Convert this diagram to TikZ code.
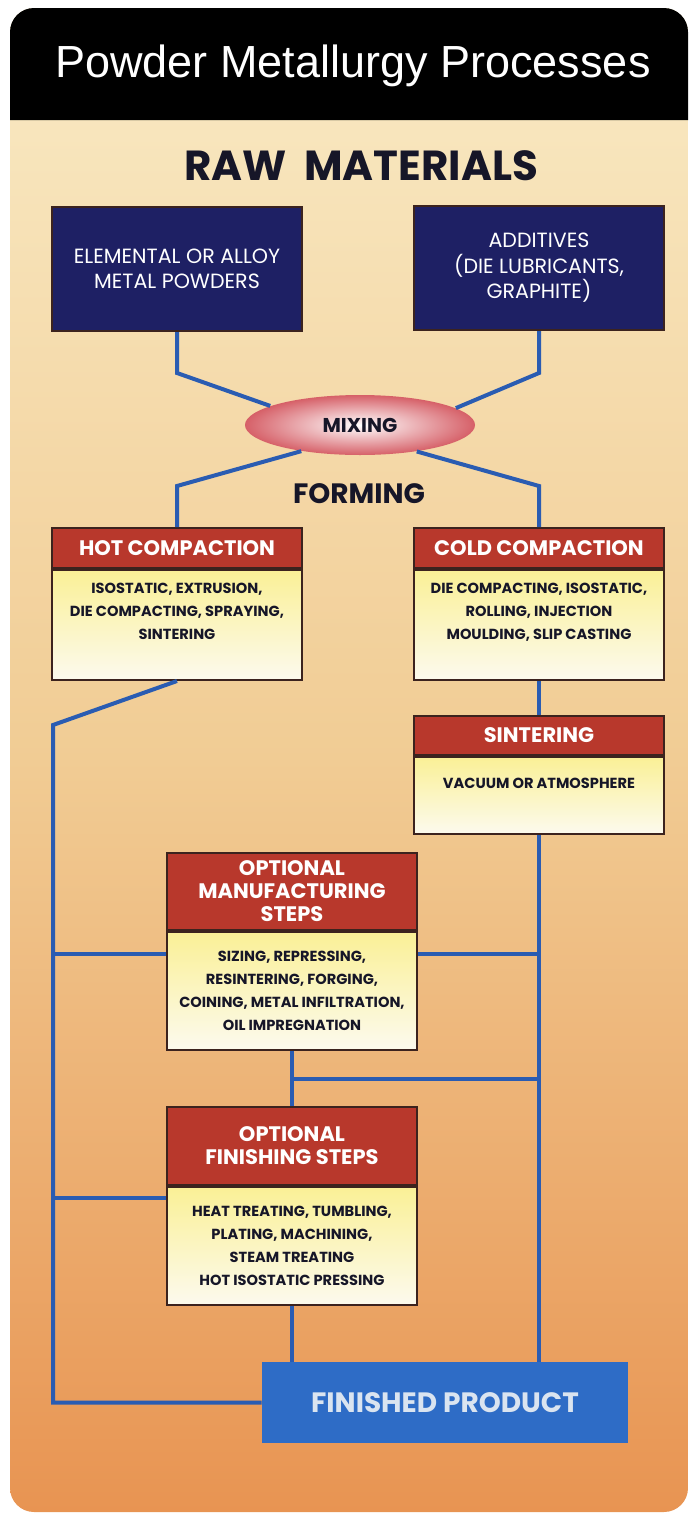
\documentclass[tikz,border=0pt]{standalone}
\usepackage{fontspec}
\setmainfont{Poppins}
\newfontfamily\titlefont{Liberation Sans}
\usepackage{tikz}
\usetikzlibrary{
	shapes.geometric,
	positioning,
	calc
}

\definecolor{navybox}{RGB}{30,32,100}
\definecolor{headred}{RGB}{184,56,44}
\definecolor{bodyyellow}{RGB}{250,240,150}
\definecolor{bodywhite}{RGB}{252,250,238}
\definecolor{linkblue}{RGB}{42,92,178}
\definecolor{prodblue}{RGB}{46,108,198}
\definecolor{panelTop}{RGB}{249,234,196}
\definecolor{panelMid}{RGB}{241,204,148}
\definecolor{panelBot}{RGB}{232,148,82}
\definecolor{boxedge}{RGB}{60,35,30}
\definecolor{inkdark}{RGB}{22,22,40}
\definecolor{mixred}{RGB}{214,96,104}
\definecolor{prodtext}{RGB}{218,228,240}

\begin{document}
\begin{tikzpicture}[
				x=0.5pt, y=-0.5pt,
				rawbox/.style={
					rectangle, draw=boxedge, line width=1pt, fill=navybox,
					minimum width=125pt, minimum height=62pt, inner sep=0pt,
					align=center, text=white, font=\fontsize{10.3}{12.7}\selectfont
				},
				headbox/.style={
					rectangle, draw=boxedge, line width=1pt, fill=headred,
					minimum width=125pt, inner sep=0pt,
					align=center, text=white, font=\bfseries\fontsize{10.5}{11.5}\selectfont
				},
				bodybox/.style={
					rectangle, draw=boxedge, line width=1pt,
					top color=bodyyellow, bottom color=bodywhite,
					minimum width=125pt, inner sep=0pt,
					align=center, text=inkdark, font=\bfseries\fontsize{7.3}{11.5}\selectfont
				},
				mixbox/.style={
					ellipse, minimum width=115pt, minimum height=30pt, inner sep=0pt,
					inner color=white, outer color=mixred,
					text=inkdark, font=\bfseries\fontsize{10}{12}\selectfont
				},
				prodbox/.style={
					rectangle, fill=prodblue, minimum width=183pt, minimum height=40.5pt,
					inner sep=0pt, text=prodtext, font=\bfseries\fontsize{14}{16}\selectfont
				},
				label/.style={text=inkdark, font=\bfseries\fontsize{21}{24}\selectfont},
				link/.style={draw=linkblue, line width=2pt}
				]
				\useasboundingbox (0,0) rectangle (690,1515);
				
				% panel
				\shade[top color=panelTop, bottom color=panelBot, middle color=panelMid, rounded corners=12pt]
					(10,8) rectangle (688,1512);
				\fill[black] (10,120) [rounded corners=12pt] -- (10,8) -- (688,8) [sharp corners] -- (688,120) -- cycle;
				\node[text=white, font=\titlefont\fontsize{22.5}{26}\selectfont] (title) at (353,66) {Powder Metallurgy Processes};
				
				% raw materials
				\node[label] (raw) at (361,166) {RAW\ \ MATERIALS};
				\node[rawbox] (elem) at (177,269) {ELEMENTAL OR ALLOY\\METAL POWDERS};
				\node[rawbox] (addit) at (539,268) {ADDITIVES\\(DIE LUBRICANTS,\\GRAPHITE)};
				
				% mixing
				\node[mixbox] (mix) at (360,425) {MIXING};
				
				% forming
				\node[label, font=\bfseries\fontsize{14}{16}\selectfont] (forming) at (359,494) {FORMING};
				
				% hot compaction
				\node[headbox, minimum height=20pt] (hothead) at (177,548) {HOT COMPACTION};
				\node[bodybox, minimum height=55pt, below=0pt of hothead] (hotbody)
					{ISOSTATIC, EXTRUSION,\\DIE COMPACTING, SPRAYING,\\SINTERING\\[2pt]};
				
				% cold compaction
				\node[headbox, minimum height=20pt] (coldhead) at (539,548) {COLD COMPACTION};
				\node[bodybox, minimum height=55pt, below=0pt of coldhead] (coldbody)
					{DIE COMPACTING, ISOSTATIC,\\ROLLING, INJECTION\\MOULDING, SLIP CASTING\\[2pt]};
				
				% sintering
				\node[headbox, minimum height=19.5pt] (sinthead) at (539,735.5) {SINTERING};
				\node[bodybox, minimum height=38.5pt, below=0pt of sinthead] (sintbody)
					{VACUUM OR ATMOSPHERE\\[1pt]};
				
				% optional manufacturing steps
				\node[headbox, minimum height=38.5pt] (manhead) at (292,891.5) {OPTIONAL\\MANUFACTURING\\STEPS};
				\node[bodybox, minimum height=59pt, below=0pt of manhead] (manbody)
					{SIZING, REPRESSING,\\RESINTERING, FORGING,\\COINING, METAL INFILTRATION,\\OIL IMPREGNATION};
				
				% optional finishing steps
				\node[headbox, minimum height=39pt] (finhead) at (292,1146) {OPTIONAL\\FINISHING STEPS};
				\node[bodybox, minimum height=59pt, below=0pt of finhead] (finbody)
					{HEAT TREATING, TUMBLING,\\PLATING, MACHINING,\\STEAM TREATING\\HOT ISOSTATIC PRESSING};
				
				% finished product
				\node[prodbox] (product) at (445,1402.5) {FINISHED PRODUCT};
				
				% raw materials into mixing
				\draw[link] (elem.south) -- ++(0,41) -- (mix.168);
				\draw[link] (addit.south) -- ++(0,42) -- (mix.10);
				
				% mixing into forming
				\draw[link] (mix.204) -- ($(hothead.north)+(0,-41)$) -- (hothead.north);
				\draw[link] (mix.335) -- ($(coldhead.north)+(0,-41)$) -- (coldhead.north);
				
				% left rail
				\coordinate (leftrail) at (53,725);
				\draw[link] (hotbody.south) -- (leftrail) -- (leftrail |- product.west) -- (product.west);
				
				% right rail
				\draw[link] (coldbody.south) -- (sinthead.north);
				\draw[link] (sintbody.south) -- (sintbody.south |- product.north);
				
				% branches
				\coordinate (manjoin) at ($(manbody.north west)+(0,23)$);
				\coordinate (manjoinR) at ($(manbody.north east)+(0,23)$);
				\coordinate (midjoin) at ($(manbody.south)!0.5!(finhead.north)$);
				\coordinate (finjoin) at ($(finbody.north west)+(0,12)$);
				\draw[link] (manjoin -| leftrail) -- (manjoin);
				\draw[link] (manjoinR) -- (manjoinR -| sintbody.south);
				\draw[link] (manbody.south) -- (finhead.north);
				\draw[link] (midjoin) -- (midjoin -| sintbody.south);
				\draw[link] (finjoin -| leftrail) -- (finjoin);
				\draw[link] (finbody.south) -- (finbody.south |- product.north);
\end{tikzpicture}
\end{document}
